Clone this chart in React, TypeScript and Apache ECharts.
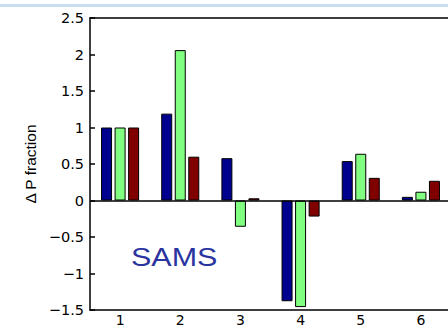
import React, { useEffect, useRef } from "react";
import * as echarts from "echarts";

const categories = ["1", "2", "3", "4", "5", "6"];
const seriesBlue = [1.0, 1.19, 0.58, -1.38, 0.54, 0.05];
const seriesGreen = [1.0, 2.06, -0.36, -1.46, 0.64, 0.12];
const seriesRed = [1.0, 0.6, 0.03, -0.22, 0.31, 0.27];
const yLabel = "\u0394 P fraction";
const panelLabel = "SAMS";

export default function App() {
  const ref = useRef<HTMLDivElement>(null);
  useEffect(() => {
    if (!ref.current) return;
    const chart = echarts.init(ref.current, null, { renderer: "svg" });
    const tickFont = { fontFamily: "DejaVu Sans", fontSize: 14.5, color: "#000" };
    const barBase = {
      type: "bar" as const,
      barWidth: 11,
      barGap: "23%",
      itemStyle: { borderColor: "#000", borderWidth: 1 },
    };
    chart.setOption({
      animation: false,
      backgroundColor: "#fff",
      grid: { left: 90, top: 18, right: -3, bottom: 19, containLabel: false, outerBoundsMode: "none" },
      xAxis: [
        {
          type: "category",
          data: categories,
          position: "bottom",
          axisLine: { onZero: false, lineStyle: { color: "#000", width: 1.5 } },
          axisTick: { inside: true, length: 5, alignWithLabel: true, lineStyle: { color: "#000", width: 1.5 } },
          axisLabel: { ...tickFont, fontSize: 14, margin: 3 },
          splitLine: { show: false },
        },
        {
          type: "category",
          data: categories,
          position: "top",
          axisLine: { onZero: false, lineStyle: { color: "#000", width: 1.5 } },
          axisTick: { inside: true, length: 5, alignWithLabel: true, lineStyle: { color: "#000", width: 1.5 } },
          axisLabel: { show: false },
          splitLine: { show: false },
        },
      ],
      yAxis: {
        type: "value",
        min: -1.5,
        max: 2.5,
        interval: 0.5,
        axisLine: { show: true, lineStyle: { color: "#000", width: 1.5 } },
        axisTick: { show: true, inside: true, length: 5, lineStyle: { color: "#000", width: 1.5 } },
        axisLabel: {
          ...tickFont,
          margin: 6,
          formatter: (v: number) => String(Math.round(v * 10) / 10).replace("-", "\u2212"),
        },
        splitLine: { show: false },
      },
      series: [
        {
          ...barBase,
          data: seriesBlue,
          itemStyle: { ...barBase.itemStyle, color: "#00008F" },
          markLine: {
            silent: true,
            symbol: ["none", "none"],
            label: { show: false },
            lineStyle: { color: "#000", width: 1.5, type: "solid" },
            data: [{ yAxis: 0 }],
          },
        },
        { ...barBase, data: seriesGreen, itemStyle: { ...barBase.itemStyle, color: "#80FF80" } },
        { ...barBase, data: seriesRed, itemStyle: { ...barBase.itemStyle, color: "#800000" } },
      ],
      graphic: [
        {
          type: "rect",
          shape: { x: 0, y: 4, width: 448, height: 3 },
          style: { fill: "#C8DFF3" },
          silent: true,
        },
        {
          type: "text",
          x: 30,
          y: 164,
          rotation: Math.PI / 2,
          style: {
            text: yLabel,
            fontFamily: "Liberation Sans",
            fontSize: 15.5,
            fill: "#000",
            textAlign: "center",
            textVerticalAlign: "middle",
          },
        },
        {
          type: "text",
          x: 131,
          y: 243,
          scaleX: 1.15,
          style: {
            text: panelLabel,
            fontFamily: "Liberation Sans",
            fontSize: 26.5,
            fill: "#2B35A0",
            textAlign: "left",
            textVerticalAlign: "top",
          },
        },
      ],
    });
    return () => chart.dispose();
  }, []);
  return (
    <div
      ref={ref}
      style={{ position: "fixed", left: 0, top: 0, width: 448, height: 329, overflow: "hidden" }}
    />
  );
}
